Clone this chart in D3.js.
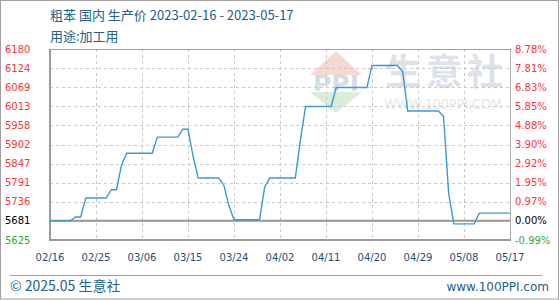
<!DOCTYPE html>
<html>
<head>
<meta charset="utf-8">
<script src="https://cdn.jsdelivr.net/npm/d3@7"></script>
<style>
  body { margin: 0; background: #fff; }
  svg { display: block; }
  text { font-family: "DejaVu Sans", Verdana, sans-serif; }
  .cjk { font-family: "Noto Sans CJK SC", "Noto Sans", sans-serif; }
</style>
</head>
<body>
<svg id="chart" width="560" height="300"></svg>
<script>
// daily price, 2023-02-16 .. 2023-05-17
const startDate = "2023-02-16";
const prices = [
  5681, 5681, 5681, 5681, 5681, 5692, 5692, 5747, 5747, 5747,
  5747, 5747, 5771, 5771, 5843, 5877, 5877, 5877, 5877, 5877,
  5877, 5924, 5924, 5924, 5924, 5924, 5947, 5947, 5868, 5805,
  5805, 5805, 5805, 5805, 5785, 5725, 5684, 5684, 5684, 5684,
  5684, 5684, 5779, 5805, 5805, 5805, 5805, 5805, 5805, 5916,
  6013, 6013, 6013, 6013, 6013, 6013, 6068, 6068, 6068, 6068,
  6068, 6068, 6068, 6132, 6132, 6132, 6132, 6132, 6132, 6114,
  6000, 6000, 6000, 6000, 6000, 6000, 6000, 5984, 5761, 5672,
  5672, 5672, 5672, 5672, 5703, 5703, 5703, 5703, 5703, 5703,
  5703
];
const priceTicks = [6180, 6124, 6069, 6013, 5958, 5902, 5847, 5791, 5736, 5681, 5625];
const pctTicks = ["8.78%", "7.81%", "6.83%", "5.85%", "4.88%", "3.90%", "2.92%", "1.95%", "0.97%", "0.00%", "-0.99%"];
const dateTicks = ["02/16", "02/25", "03/06", "03/15", "03/24", "04/02", "04/11", "04/20", "04/29", "05/08", "05/17"];
const titleLine1 = "粗苯 国内 生产价 2023-02-16 - 2023-05-17";
const titleLine2 = "用途:加工用";
const footLeft = "© 2025.05 生意社";
const footRight = "www.100PPI.com";

const basePrice = prices[0];
const parse = d3.utcParse("%Y-%m-%d");
const t0 = parse(startDate);
const data = prices.map((v, i) => ({ date: d3.utcDay.offset(t0, i), v }));

const svg = d3.select("#chart");
const L = 50, R = 510, T = 49, B = 240;
const blue = "#21618c";

const x = d3.scaleUtc().domain([t0, d3.utcDay.offset(t0, 90)]).range([L, R]);
const y = d3.scaleLinear().domain([5625, 6180]).range([B, T]);
const tickDates = dateTicks.map((d, i) => d3.utcDay.offset(t0, i * 9));

// outer frame
svg.append("rect").attr("x", 0.5).attr("y", 0.5).attr("width", 558).attr("height", 298.5)
  .attr("fill", "none").attr("stroke", "#a0a0a0");

// watermark
const wm = svg.append("g").attr("class", "wm");
wm.append("path").attr("d", "M336,51 L362,75 L310,75 Z").attr("fill", "#f7d9d4");
wm.append("path").attr("d", "M310,92 L362,92 L336,113 Z").attr("fill", "#d8eed8");
wm.append("text").attr("x", 313).attr("y", 91)
  .attr("font-size", 22).attr("font-weight", "bold").attr("fill", "#d6dbe6")
  .attr("font-family", "Liberation Serif, serif")
  .attr("textLength", 46).attr("lengthAdjust", "spacingAndGlyphs").text("PPI");
wm.append("text").attr("class", "cjk").attr("x", 385).attr("y", 85)
  .attr("font-size", 36).attr("font-weight", "bold").attr("fill", "#dde1ea")
  .attr("textLength", 118).attr("lengthAdjust", "spacing").text("生意社");
wm.append("text").attr("x", 384).attr("y", 109)
  .attr("font-size", 14).attr("fill", "#e6e6e6")
  .attr("textLength", 118).attr("lengthAdjust", "spacingAndGlyphs").text("WWW.100PPI.COM");

// grid
const grid = svg.append("g").attr("stroke", "#c8c8c8").attr("stroke-dasharray", "3,3");
tickDates.slice(1, -1).forEach(d => {
  grid.append("line").attr("x1", Math.round(x(d)) + 0.5).attr("x2", Math.round(x(d)) + 0.5)
    .attr("y1", T).attr("y2", B);
});
priceTicks.slice(1, -1).forEach(v => {
  grid.append("line").attr("x1", L).attr("x2", R)
    .attr("y1", Math.round(y(v)) + 0.5).attr("y2", Math.round(y(v)) + 0.5);
});

// frame of plot
svg.append("line").attr("x1", L).attr("x2", R).attr("y1", T + 0.5).attr("y2", T + 0.5).attr("stroke", "#a0a0a0");
svg.append("line").attr("x1", R + 0.5).attr("x2", R + 0.5).attr("y1", T).attr("y2", B).attr("stroke", "#b0b0b0");
svg.append("line").attr("x1", L).attr("x2", R + 1).attr("y1", B).attr("y2", B).attr("stroke", "#999").attr("stroke-width", 2);
svg.append("line").attr("x1", L).attr("x2", L).attr("y1", T).attr("y2", B + 1).attr("stroke", "#999").attr("stroke-width", 2);
// base price line
svg.append("line").attr("x1", L).attr("x2", R).attr("y1", y(basePrice)).attr("y2", y(basePrice))
  .attr("stroke", "#999").attr("stroke-width", 2);

// price line
const line = d3.line().x(d => x(d.date)).y(d => y(d.v));
svg.append("path").datum(data).attr("d", line)
  .attr("fill", "none").attr("stroke", "#3a9ad9").attr("stroke-width", 1.4);

// left axis labels
const colorFor = v => v > basePrice ? "#ff3333" : (v < basePrice ? "#33aa33" : "#000");
svg.append("g").selectAll("text").data(priceTicks).join("text")
  .attr("x", 5).attr("y", d => y(d)).attr("dy", "0.35em")
  .attr("font-size", 10).attr("fill", d => colorFor(d)).text(d => d);

// right axis labels
svg.append("g").selectAll("text").data(pctTicks).join("text")
  .attr("x", 515).attr("y", (d, i) => y(priceTicks[i])).attr("dy", "0.35em")
  .attr("font-size", 10).attr("fill", (d, i) => colorFor(priceTicks[i])).text(d => d);

// x axis labels
svg.append("g").selectAll("text").data(dateTicks).join("text")
  .attr("x", (d, i) => x(tickDates[i])).attr("y", 257).attr("dy", "0.35em")
  .attr("text-anchor", "middle").attr("font-size", 10).attr("fill", "#1a4f7a").text(d => d);

// titles
svg.append("text").attr("class", "cjk").attr("x", 50).attr("y", 20)
  .attr("font-size", 13).attr("fill", blue).text(titleLine1);
svg.append("text").attr("class", "cjk").attr("x", 50).attr("y", 41)
  .attr("font-size", 13).attr("fill", blue).text(titleLine2);

// footer
svg.append("line").attr("x1", 10).attr("x2", 542).attr("y1", 275.5).attr("y2", 275.5).attr("stroke", "#a0a0a0");
svg.append("text").attr("class", "cjk").attr("x", 10).attr("y", 291)
  .attr("font-size", 14).attr("fill", blue).text(footLeft);
svg.append("text").attr("x", 549).attr("y", 291).attr("text-anchor", "end")
  .attr("font-size", 12).attr("fill", blue).text(footRight);
</script>
</body>
</html>
